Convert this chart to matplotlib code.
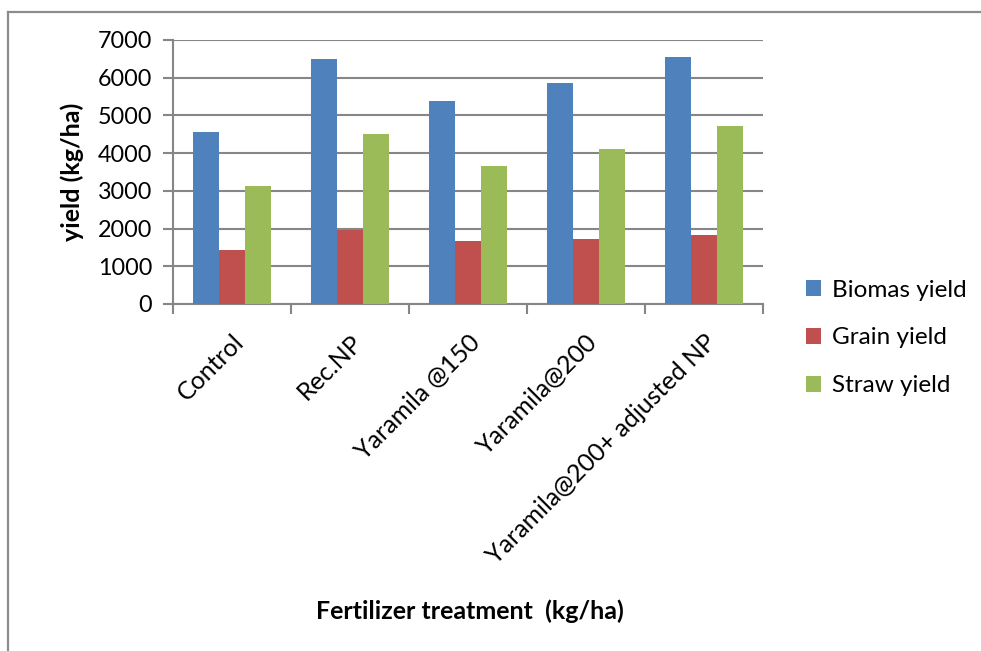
import matplotlib
matplotlib.use("Agg")
import matplotlib.pyplot as plt
import numpy as np
from matplotlib.lines import Line2D
from matplotlib.patches import Patch

categories = ["Control", "Rec.NP", "Yaramila @150", "Yaramila@200", "Yaramila@200+ adjusted NP"]
biomas = [4560, 6490, 5380, 5870, 6560]
grain = [1420, 1960, 1680, 1730, 1820]
straw = [3120, 4510, 3670, 4120, 4720]
series_names = ["Biomas yield", "Grain yield", "Straw yield"]
colors = ["#4F81BD", "#C0504D", "#9BBB59"]

plt.rcParams['font.family'] = ['Lato', 'DejaVu Sans']
W, H = 981, 651
fig = plt.figure(figsize=(W/100, H/100), dpi=100)
ax = fig.add_axes([173/W, 1-304/H, (763-173)/W, (304-40)/H])

x = np.arange(len(categories))
bw = 0.221
for i, (vals, c) in enumerate(zip([biomas, grain, straw], colors)):
    ax.bar(x + (i-1)*bw, vals, width=bw, color=c, edgecolor='none', zorder=3)

ax.set_xlim(-0.5, len(categories)-0.5)
ax.set_ylim(0, 7000)
ax.set_yticks(range(0, 7001, 1000))
ax.yaxis.grid(True, color='#868686', linewidth=1.5, zorder=0)
ax.set_axisbelow(True)
for s in ['top', 'right']:
    ax.spines[s].set_visible(False)
for s in ['left', 'bottom']:
    ax.spines[s].set_color('#868686')
    ax.spines[s].set_linewidth(1.5)
ax.set_xticks(np.arange(-0.5, len(categories)), minor=False)
ax.set_xticklabels([])
ax.set_xticks(x, minor=True)
ax.set_xticklabels(categories, minor=True, rotation=45, ha='right', va='top',
                   rotation_mode='anchor', fontsize=18)
ax.tick_params(axis='x', which='major', length=7, width=1.5, color='#868686', direction='out')
ax.tick_params(axis='x', which='minor', length=0, pad=19)
ax.tick_params(axis='y', length=7, width=1.5, color='#868686', labelsize=16.8, pad=8)

ax.set_ylabel("yield (kg/ha)", fontsize=18, fontweight='bold', labelpad=10)
fig.text(470/W, 1-611/H, "Fertilizer treatment  (kg/ha)", ha='center', va='center',
         fontsize=18, fontweight='bold')

handles = [Patch(facecolor=c, edgecolor='none') for c in colors]
fig.legend(handles, series_names, loc='upper left', bbox_to_anchor=(796/W, 1-270/H),
           frameon=False, fontsize=17.5, handlelength=0.62, handleheight=0.62,
           labelspacing=1.1, handletextpad=0.45, borderaxespad=0)

fig.add_artist(Line2D([8/W, 8/W], [1-12/H, 0], transform=fig.transFigure, color='#8c8c8c', linewidth=1.6))
fig.add_artist(Line2D([8/W, 980/W], [1-12/H, 1-12/H], transform=fig.transFigure, color='#8c8c8c', linewidth=1.6))

fig.savefig("out.png", dpi=100)
